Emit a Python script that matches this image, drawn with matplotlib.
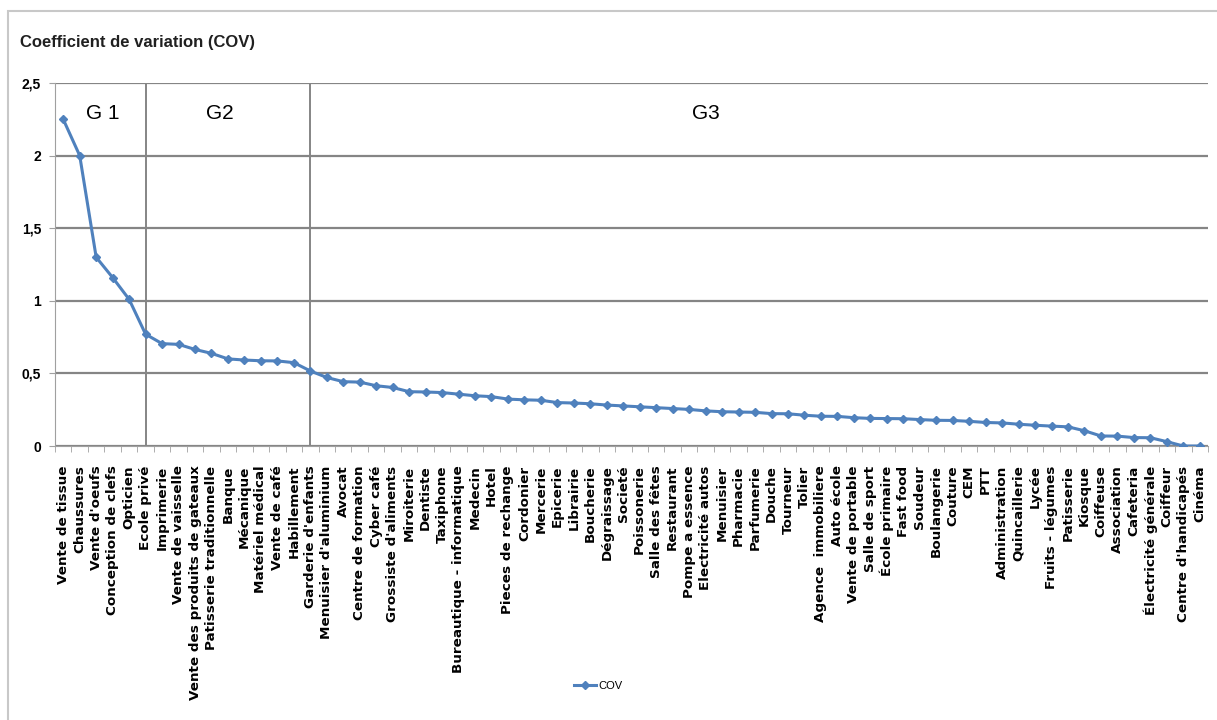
import matplotlib
matplotlib.use("Agg")
from matplotlib import pyplot as plt
from matplotlib.patches import Rectangle

# activities, sorted by coefficient of variation
activites = [
    "Vente de tissue", "Chaussures", "Vente d'oeufs", "Conception de clefs",
    "Opticien", "Ecole privé", "Imprimerie", "Vente de vaisselle",
    "Vente des produits de gateaux", "Patisserie traditionnelle", "Banque",
    "Mécanique", "Matériel médical", "Vente de café", "Habillement",
    "Garderie d'enfants", "Menuisier d'aluminium", "Avocat",
    "Centre de formation", "Cyber café", "Grossiste d'aliments", "Miroiterie",
    "Dentiste", "Taxiphone", "Bureautique - informatique", "Medecin", "Hotel",
    "Pieces de rechange", "Cordonier", "Mercerie", "Epicerie", "Librairie",
    "Boucherie", "Dégraissage", "Societé", "Poissonerie", "Salle des fêtes",
    "Restaurant", "Pompe a essence", "Electricité autos", "Menuisier",
    "Pharmacie", "Parfumerie", "Douche", "Tourneur", "Tolier",
    "Agence  immobiliere", "Auto école", "Vente de portable", "Salle de sport",
    "École primaire", "Fast food", "Soudeur", "Boulangerie", "Couture", "CEM",
    "PTT", "Administration", "Quincaillerie", "Lycée", "Fruits - légumes",
    "Patisserie", "Kiosque", "Coiffeuse", "Association", "Cafeteria",
    "Électricité générale", "Coiffeur", "Centre d'handicapés", "Cinéma",
]

cov = [
    2.25, 2.00, 1.30, 1.16, 1.01, 0.77, 0.705, 0.70, 0.665, 0.638, 0.60,
    0.592, 0.587, 0.586, 0.574, 0.517, 0.472, 0.443, 0.44, 0.415, 0.403,
    0.374, 0.372, 0.368, 0.357, 0.346, 0.34, 0.323, 0.318, 0.315, 0.299,
    0.296, 0.291, 0.282, 0.276, 0.27, 0.264, 0.258, 0.252, 0.242, 0.236,
    0.234, 0.232, 0.223, 0.222, 0.212, 0.205, 0.204, 0.195, 0.19, 0.189,
    0.188, 0.182, 0.177, 0.176, 0.17, 0.162, 0.159, 0.15, 0.143, 0.137,
    0.132, 0.105, 0.069, 0.068, 0.058, 0.057, 0.03, 0.0, 0.0,
]

# groups: first activity of each group after G1
debut_groupes = ["Ecole privé", "Garderie d'enfants"]
noms_groupes = ["G 1", "G2", "G3"]
pos_groupes = [2.4, 9.5, 39.0]

bleu = "#4F81BD"
gris = "#858585"

fig = plt.figure(figsize=(12.17, 7.2), dpi=100)
# chart border (only top / left visible in the picture)
fig.patches.append(Rectangle((8 / 1217, -0.1), 1.2, 1.1 - 11 / 720,
                             transform=fig.transFigure, fill=False,
                             edgecolor="#c8c8c8", linewidth=1.5))

ax = fig.add_axes([55 / 1217, 1 - 446 / 720, (1208 - 55) / 1217, (446 - 83) / 720])

x = list(range(len(activites)))
ax.plot(x, cov, color=bleu, linewidth=2.2, marker="D", markersize=4.5,
        markerfacecolor=bleu, markeredgecolor=bleu, label="COV", zorder=3)

ax.set_xlim(-0.5, len(activites) - 0.5)
ax.set_ylim(0, 2.5)
ax.set_yticks([0, 0.5, 1, 1.5, 2, 2.5])
ax.set_yticklabels(["0", "0,5", "1", "1,5", "2", "2,5"], fontweight="bold",
                   fontsize=10, family="Liberation Sans")
ax.yaxis.grid(True, color=gris, linewidth=1.6)
ax.set_axisbelow(True)

for nom in debut_groupes:
    ax.axvline(activites.index(nom), color=gris, linewidth=1.4, zorder=1)

for nom, p in zip(noms_groupes, pos_groupes):
    ax.text(p, 2.29, nom, fontsize=15, ha="center", va="center",
            family="Liberation Sans")

ax.set_xticks(x)
ax.set_xticklabels(activites, rotation=90, fontsize=9.7, fontweight="bold",
                   family="DejaVu Sans", va="top", ha="center")
ax.set_xticks([i + 0.5 for i in range(-1, len(activites))], minor=True)
ax.tick_params(axis="x", which="major", length=0, pad=14)
ax.tick_params(axis="x", which="minor", length=4, color="#a0a0a0", direction="out")
ax.tick_params(axis="y", length=4, color="#a0a0a0", pad=6)

for s in ["top", "right"]:
    ax.spines[s].set_visible(False)
ax.spines["left"].set_color("#a0a0a0")
ax.spines["bottom"].set_color("#a0a0a0")

fig.text(20 / 1217, 1 - 43 / 720, "Coefficient de variation (COV)",
         fontsize=12, fontweight="bold", family="Liberation Sans",
         va="center", color="#202020")

fig.legend(loc="center", bbox_to_anchor=(598 / 1217, 1 - 686 / 720), frameon=False,
           handlelength=2.0, handletextpad=0.2,
           prop={"family": "Liberation Sans", "size": 8})

fig.savefig("out.png", dpi=100)
